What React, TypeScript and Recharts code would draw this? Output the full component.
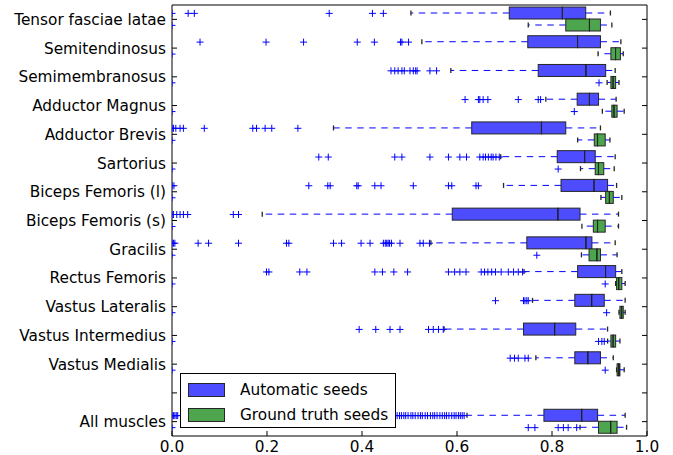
import React from 'react';
import { ComposedChart, Bar, Scatter, XAxis, YAxis, Legend } from 'recharts';

const categories = [
  'Tensor fasciae latae',
  'Semitendinosus',
  'Semimembranosus',
  'Adductor Magnus',
  'Adductor Brevis',
  'Sartorius',
  'Biceps Femoris (l)',
  'Biceps Femoris (s)',
  'Gracilis',
  'Rectus Femoris',
  'Vastus Lateralis',
  'Vastus Intermedius',
  'Vastus Medialis',
  '',
  'All muscles',
];

// [lower whisker, Q1, median, Q3, upper whisker]
const autoBoxes: (number[] | null)[] = [
  [0.503, 0.71, 0.822, 0.871, 0.923],
  [0.526, 0.749, 0.854, 0.902, 0.945],
  [0.587, 0.771, 0.872, 0.913, 0.933],
  [0.787, 0.853, 0.879, 0.898, 0.935],
  [0.34, 0.631, 0.778, 0.829, 0.902],
  [0.692, 0.811, 0.869, 0.891, 0.933],
  [0.698, 0.819, 0.889, 0.917, 0.936],
  [0.19, 0.59, 0.813, 0.859, 0.94],
  [0.545, 0.747, 0.872, 0.884, 0.933],
  [0.741, 0.854, 0.913, 0.934, 0.947],
  [0.759, 0.848, 0.884, 0.91, 0.954],
  [0.573, 0.74, 0.806, 0.85, 0.917],
  [0.766, 0.848, 0.876, 0.902, 0.929],
  null,
  [0.621, 0.783, 0.863, 0.896, 0.954],
];

const gtBoxes: (number[] | null)[] = [
  [0.75, 0.829, 0.879, 0.902, 0.926],
  [0.897, 0.924, 0.934, 0.944, 0.95],
  [0.916, 0.924, 0.929, 0.934, 0.941],
  [0.906, 0.926, 0.931, 0.937, 0.952],
  [0.854, 0.889, 0.896, 0.912, 0.922],
  [0.86, 0.891, 0.898, 0.909, 0.931],
  [0.903, 0.913, 0.921, 0.929, 0.947],
  [0.863, 0.887, 0.896, 0.912, 0.94],
  [0.862, 0.878, 0.895, 0.902, 0.937],
  [0.934, 0.936, 0.941, 0.947, 0.954],
  [0.941, 0.943, 0.947, 0.95, 0.954],
  [0.917, 0.924, 0.929, 0.934, 0.943],
  [0.936, 0.937, 0.941, 0.943, 0.952],
  null,
  [0.859, 0.898, 0.924, 0.937, 0.957],
];

const autoOutliers: number[][] = [
  [0, 0.034, 0.047, 0.331, 0.422, 0.445],
  [0.059, 0.198, 0.277, 0.39, 0.426, 0.481, 0.484, 0.498],
  [0.461, 0.469, 0.476, 0.484, 0.489, 0.501, 0.508, 0.513, 0.516, 0.543, 0.557],
  [0.617, 0.645, 0.648, 0.655, 0.665, 0.729, 0.771, 0.776],
  [0, 0.003, 0.008, 0.017, 0.024, 0.068, 0.17, 0.178, 0.196, 0.21, 0.265],
  [0.309, 0.329, 0.469, 0.484, 0.543, 0.582, 0.606, 0.62, 0.648, 0.655, 0.66, 0.666, 0.672, 0.676, 0.682, 0.689],
  [0, 0.004, 0.288, 0.328, 0.333, 0.389, 0.392, 0.427, 0.44, 0.508, 0.582, 0.589, 0.64, 0.645],
  [0, 0.003, 0.01, 0.017, 0.024, 0.033, 0.129, 0.14],
  [0, 0.003, 0.006, 0.055, 0.077, 0.14, 0.241, 0.246, 0.34, 0.357, 0.398, 0.417, 0.445, 0.449, 0.452, 0.455, 0.458, 0.462, 0.48, 0.522, 0.529, 0.542],
  [0.199, 0.204, 0.269, 0.284, 0.427, 0.443, 0.467, 0.496, 0.582, 0.595, 0.606, 0.619, 0.651, 0.658, 0.665, 0.673, 0.681, 0.693, 0.708, 0.719, 0.729, 0.738],
  [0.681, 0.74, 0.743, 0.747, 0.75],
  [0.394, 0.429, 0.459, 0.48, 0.54, 0.55, 0.561, 0.571],
  [0.712, 0.721, 0.729, 0.743, 0.75],
  [],
  [0, 0.003, 0.006, 0.009, 0.012, 0.474, 0.479, 0.483, 0.488, 0.492, 0.497, 0.503, 0.507, 0.512, 0.518, 0.523, 0.527, 0.533, 0.538, 0.544, 0.549, 0.553, 0.558, 0.564, 0.569, 0.574, 0.578, 0.583, 0.589, 0.594, 0.598, 0.603, 0.607, 0.611, 0.615],
];

const gtOutliers: number[][] = [
  [0],
  [0],
  [0, 0.899],
  [0, 0.847],
  [0],
  [0, 0.813],
  [0],
  [0],
  [0, 0.768],
  [0, 0.912],
  [0, 0.915],
  [0, 0.898, 0.905, 0.91],
  [0, 0.912],
  [],
  [0, 0.75, 0.764, 0.813, 0.824, 0.834, 0.852],
];

const xTicks = [0, 0.2, 0.4, 0.6, 0.8, 1.0];

const series = [
  { key: 'a', label: 'Automatic seeds', fill: '#4d4dff', boxes: autoBoxes, outliers: autoOutliers, dy: -6 },
  { key: 'g', label: 'Ground truth seeds', fill: '#4da64d', boxes: gtBoxes, outliers: gtOutliers, dy: 6 },
];

const FONT = '"DejaVu Sans", sans-serif';
const FS = 15.3;
const WHISKER = '#0000ff';
const EDGE = '#262626';

const rows = categories.map((name, i) => {
  const row: any = { name };
  series.forEach((s) => {
    const b = s.boxes[i];
    row[s.key + '_has'] = !!b;
    row[s.key + '_base'] = b ? b[0] : 0;
    row[s.key + '_w1'] = b ? b[1] - b[0] : 0;
    row[s.key + '_b1'] = b ? b[2] - b[1] : 0;
    row[s.key + '_b2'] = b ? b[3] - b[2] : 0;
    row[s.key + '_w2'] = b ? b[4] - b[3] : 0;
  });
  return row;
});

const pointsFor = (s: any) =>
  categories.flatMap((name, i) =>
    s.outliers[i].length ? s.outliers[i].map((v: number) => ({ name, v })) : [{ name, v: null }]
  );

const ok = (p: any, key: string) =>
  p && p.payload && p.payload[key + '_has'] && Number.isFinite(p.x) && Number.isFinite(p.width);

const makeLowWhisker = (key: string) => (p: any) => {
  if (!ok(p, key)) return <g />;
  const cy = p.y + p.height / 2;
  return (
    <g>
      <line x1={p.x + p.width} x2={p.x} y1={cy} y2={cy} stroke={WHISKER} strokeWidth={1} strokeDasharray="6.5 5.5" />
      <line x1={p.x} x2={p.x} y1={cy - 2.5} y2={cy + 2.5} stroke={EDGE} strokeWidth={1.3} />
    </g>
  );
};

const makeHighWhisker = (key: string) => (p: any) => {
  if (!ok(p, key)) return <g />;
  const cy = p.y + p.height / 2;
  return (
    <g>
      <line x1={p.x} x2={p.x + p.width} y1={cy} y2={cy} stroke={WHISKER} strokeWidth={1} strokeDasharray="6.5 5.5" />
      <line x1={p.x + p.width} x2={p.x + p.width} y1={cy - 2.5} y2={cy + 2.5} stroke={EDGE} strokeWidth={1.3} />
    </g>
  );
};

const makeBoxHalf = (key: string, fill: string, withMedian: boolean) => (p: any) => {
  if (!ok(p, key)) return <g />;
  return (
    <g>
      <rect x={p.x} y={p.y} width={Math.max(p.width, 0)} height={p.height} fill={fill} stroke={EDGE} strokeWidth={1} />
      {withMedian && (
        <line x1={p.x + p.width} x2={p.x + p.width} y1={p.y} y2={p.y + p.height} stroke="#000" strokeWidth={1.3} />
      )}
    </g>
  );
};

const emptyShape = () => <g />;

const makePlus = (dy: number) => (p: any) => {
  const { cx, cy } = p;
  if (cx == null || cy == null || !Number.isFinite(cx) || !Number.isFinite(cy)) return <g />;
  const y = cy + dy;
  return (
    <g>
      <line x1={cx - 3.5} x2={cx + 3.5} y1={y} y2={y} stroke="#0000ff" strokeWidth={1} />
      <line x1={cx} x2={cx} y1={y - 3.5} y2={y + 3.5} stroke="#0000ff" strokeWidth={1} />
    </g>
  );
};

const LeftTick = (p: any) => (
  <g>
    <line x1={p.x} x2={p.x + 5} y1={p.y} y2={p.y} stroke="#000" strokeWidth={1} />
    <text x={p.x - 6} y={p.y} dy={5.5} textAnchor="end" fontFamily={FONT} fontSize={FS} fill="#000">
      {p.payload.value}
    </text>
  </g>
);

const RightTick = (p: any) => (
  <line x1={p.x} x2={p.x - 5} y1={p.y} y2={p.y} stroke="#000" strokeWidth={1} />
);

const BottomTick = (p: any) => (
  <g>
    <line x1={p.x} x2={p.x} y1={p.y} y2={p.y - 5} stroke="#000" strokeWidth={1} />
    <text x={p.x} y={p.y} dy={15.5} textAnchor="middle" fontFamily={FONT} fontSize={FS} fill="#000">
      {Number(p.payload.value).toFixed(1)}
    </text>
  </g>
);

const TopTick = (p: any) => (
  <line x1={p.x} x2={p.x} y1={p.y} y2={p.y + 5} stroke="#000" strokeWidth={1} />
);

const LegendBox = () => (
  <div
    style={{
      position: 'relative',
      width: 216,
      height: 55,
      boxSizing: 'border-box',
      border: '1px solid #000',
      background: '#fff',
      fontFamily: FONT,
      fontSize: FS,
      color: '#000',
    }}
  >
    {series.map((s, i) => (
      <div key={s.key} style={{ position: 'absolute', left: 7, top: 8 + i * 25, height: 16, display: 'flex', alignItems: 'center' }}>
        <div style={{ width: 37, height: 14, boxSizing: 'border-box', background: s.fill, border: '1px solid ' + EDGE }} />
        <span style={{ marginLeft: 15, lineHeight: '16px', whiteSpace: 'nowrap' }}>{s.label}</span>
      </div>
    ))}
  </div>
);

export default function App() {
  return (
    <div style={{ position: 'absolute', left: 0, top: 0 }}>
      <ComposedChart
        width={673}
        height={455}
        data={rows}
        layout="vertical"
        margin={{ top: 4, right: 25, bottom: 0, left: 0 }}
        barSize={12}
        barGap={0}
      >
        <XAxis
          type="number"
          domain={[0, 1]}
          ticks={xTicks}
          allowDataOverflow
          height={19}
          axisLine={{ stroke: '#000' }}
          tickLine={false}
          tickSize={0}
          tickMargin={0}
          tick={<BottomTick />}
          interval={0}
        />
        <XAxis
          xAxisId="top"
          orientation="top"
          type="number"
          domain={[0, 1]}
          ticks={xTicks}
          height={1}
          axisLine={{ stroke: '#000' }}
          tickLine={false}
          tickSize={0}
          tickMargin={0}
          tick={<TopTick />}
          interval={0}
        />
        <YAxis
          type="category"
          dataKey="name"
          width={172}
          allowDuplicatedCategory={false}
          axisLine={{ stroke: '#000' }}
          tickLine={false}
          tickSize={0}
          tickMargin={0}
          tick={<LeftTick />}
          interval={0}
        />
        <YAxis
          yAxisId="right"
          orientation="right"
          type="category"
          dataKey="name"
          width={1}
          allowDuplicatedCategory={false}
          axisLine={{ stroke: '#000' }}
          tickLine={false}
          tickSize={0}
          tickMargin={0}
          tick={<RightTick />}
          interval={0}
        />
        {series.map((s) => [
          <Bar key={s.key + 'base'} dataKey={s.key + '_base'} stackId={s.key} fill="none" shape={emptyShape} isAnimationActive={false} legendType="none" />,
          <Bar key={s.key + 'w1'} dataKey={s.key + '_w1'} stackId={s.key} fill="none" shape={makeLowWhisker(s.key)} isAnimationActive={false} legendType="none" />,
          <Bar key={s.key + 'b1'} dataKey={s.key + '_b1'} stackId={s.key} fill={s.fill} shape={makeBoxHalf(s.key, s.fill, true)} isAnimationActive={false} legendType="none" />,
          <Bar key={s.key + 'b2'} dataKey={s.key + '_b2'} stackId={s.key} fill={s.fill} shape={makeBoxHalf(s.key, s.fill, false)} isAnimationActive={false} legendType="none" />,
          <Bar key={s.key + 'w2'} dataKey={s.key + '_w2'} stackId={s.key} fill="none" shape={makeHighWhisker(s.key)} isAnimationActive={false} legendType="none" />,
        ])}
        {series.map((s) => (
          <Scatter
            key={s.key + 'out'}
            data={pointsFor(s)}
            dataKey="v"
            shape={makePlus(s.dy)}
            isAnimationActive={false}
            legendType="none"
          />
        ))}
        <Legend
          layout="vertical"
          align="center"
          verticalAlign="middle"
          wrapperStyle={{ left: 180, top: 373, width: 216, height: 55 }}
          content={() => <LegendBox />}
        />
      </ComposedChart>
    </div>
  );
}
